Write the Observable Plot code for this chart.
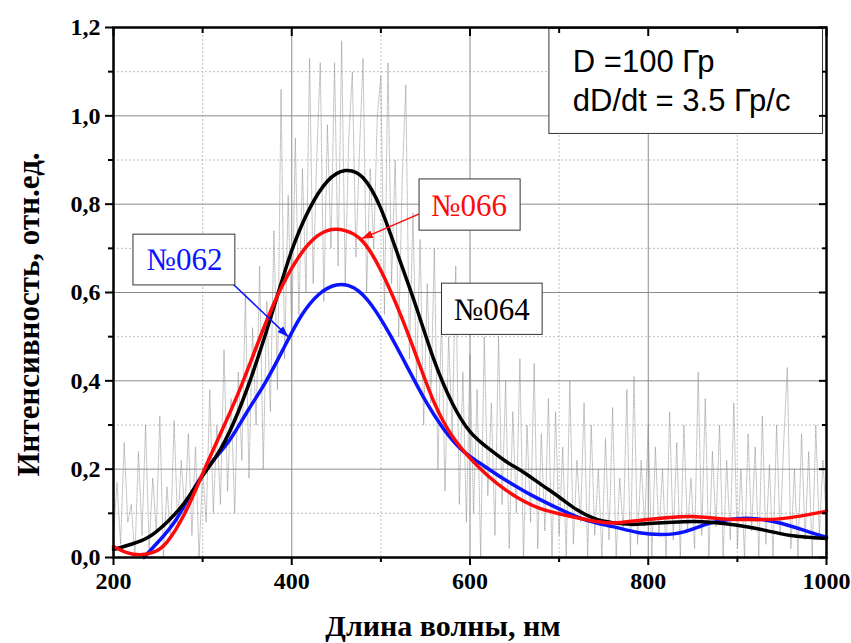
<!DOCTYPE html>
<html><head><meta charset="utf-8">
<script src="https://cdn.jsdelivr.net/npm/d3@7"></script>
<script src="https://cdn.jsdelivr.net/npm/@observablehq/plot@0.6"></script>
<style>body{margin:0;background:#fff} svg{display:block}</style>
</head><body><div id="chart"></div>
<script>
// ---- data ----
const xMajor = [200, 400, 600, 800, 1000];
const xMinor = [300, 500, 700, 900];
const yMajor = [0, 0.2, 0.4, 0.6, 0.8, 1.0, 1.2];
const yMinor = [0.1, 0.3, 0.5, 0.7, 0.9, 1.1];
const yTickLabels = ["0,0", "0,2", "0,4", "0,6", "0,8", "1,0", "1,2"];
const xTickLabels = ["200", "400", "600", "800", "1000"];

// raw noisy spectrum, sampled every 4 nm from 200 nm
const rawStart = 200, rawStep = 4;
const rawIntensity = [
 0.05,0.17,0.03,0.26,0.08,0.12,0.0,0.24,0.05,0.30,
 0.02,0.18,0.06,0.32,0.0,0.16,0.04,0.31,0.07,0.22,
 0.1,0.28,0.05,0.25,0.0,0.2,0.08,0.38,0.1,0.3,
 0.12,0.47,0.15,0.36,0.1,0.42,0.22,0.6,0.18,0.52,
 0.3,0.66,0.2,0.58,0.33,0.74,0.38,1.06,0.45,0.82,
 0.5,0.95,0.55,0.88,0.6,1.13,0.62,0.9,1.12,0.58,
 0.98,0.7,1.12,0.66,1.17,0.62,0.95,1.1,0.68,0.92,
 1.13,0.6,0.88,0.7,1.0,1.09,0.55,1.12,0.62,0.9,
 0.5,0.86,1.07,0.45,0.78,0.4,0.72,0.3,0.62,0.35,
 0.7,0.2,0.55,0.15,0.5,0.28,0.66,0.12,0.42,0.08,
 0.46,0.1,0.38,0.0,0.5,0.14,0.35,0.05,0.5,0.12,
 0.4,0.02,0.33,0.1,0.45,0.0,0.3,0.08,0.44,0.02,
 0.28,0.06,0.36,0.0,0.33,0.05,0.25,0.0,0.4,0.03,
 0.22,0.08,0.35,0.0,0.3,0.05,0.2,0.0,0.27,0.04,
 0.34,0.0,0.18,0.06,0.38,0.0,0.41,0.03,0.22,0.07,
 0.3,0.0,0.25,0.05,0.2,0.0,0.33,0.04,0.26,0.0,
 0.3,0.06,0.18,0.02,0.42,0.05,0.36,0.0,0.24,0.07,
 0.3,0.0,0.22,0.04,0.35,0.02,0.2,0.0,0.28,0.06,
 0.25,0.0,0.32,0.03,0.21,0.0,0.3,0.05,0.26,0.43,
 0.02,0.2,0.0,0.28,0.04,0.24,0.0,0.3,0.05,0.22,
 0.08
];

// smoothed spectra
const wl064 = [200,220,240,260,280,300,320,340,360,380,400,420,440,460,480,500,520,540,560,580,600,620,640,660,680,700,720,740,760,780,800,840,870,900,930,960,1000];
const int064 = [0.018,0.03,0.047,0.08,0.125,0.185,0.245,0.33,0.44,0.567,0.695,0.79,0.852,0.876,0.86,0.79,0.68,0.565,0.445,0.35,0.285,0.248,0.218,0.193,0.165,0.137,0.108,0.088,0.079,0.075,0.077,0.081,0.08,0.073,0.062,0.05,0.043];

const wl066 = [200,215,230,245,260,280,300,320,340,360,380,400,420,440,460,480,500,520,540,560,580,600,620,640,660,680,700,720,740,760,790,820,850,880,910,950,1000];
const int066 = [0.025,0.011,0.006,0.012,0.035,0.1,0.19,0.28,0.372,0.475,0.575,0.655,0.712,0.74,0.74,0.715,0.65,0.56,0.455,0.35,0.275,0.225,0.185,0.153,0.128,0.11,0.099,0.09,0.082,0.078,0.084,0.09,0.093,0.088,0.086,0.088,0.105];

const wl062 = [234,250,270,290,310,330,350,370,390,410,430,450,470,490,510,530,550,570,590,610,630,650,670,700,730,760,790,815,840,870,900,920,950,980,1000];
const int062 = [0.0,0.035,0.085,0.155,0.215,0.265,0.33,0.395,0.47,0.545,0.595,0.617,0.61,0.57,0.505,0.43,0.355,0.292,0.245,0.215,0.188,0.163,0.14,0.11,0.085,0.07,0.056,0.052,0.058,0.078,0.088,0.088,0.077,0.058,0.046];

// annotations (data coordinates)
const seriesNames = ["№062", "№064", "№066"];
const seriesColors = ["#0a14ff", "#000000", "#ff0a0a"];
const labelBoxes = [
  {x1: 222.4, x2: 336.7, y1: 0.616, y2: 0.731},
  {x1: 568.6, x2: 681.5, y1: 0.504, y2: 0.620},
  {x1: 543.4, x2: 656.8, y1: 0.740, y2: 0.856}
];
const labelPos = [
  {x: 279.6, y: 0.650},
  {x: 624.4, y: 0.537},
  {x: 598.9, y: 0.774}
];
const arrows062 = [{x1: 331.1, y1: 0.625, x2: 396.1, y2: 0.500}];
const arrows066 = [{x1: 547.7, y1: 0.782, x2: 478.6, y2: 0.722}];
const infoBox = [{x1: 689.1, x2: 996.1, y1: 0.959, y2: 1.197}];
const infoLines = [
  {x: 715.4, y: 1.099, text: "D =100 Гр"},
  {x: 715.4, y: 1.012, text: "dD/dt = 3.5 Гр/с"}
];
const xTitle = "Длина волны, нм";
const yTitle = "Интенсивность, отн.ед.";

// ---- build tables ----
const raw = rawIntensity.map((v, i) => ({x: rawStart + i * rawStep, y: v}));
const s064 = wl064.map((x, i) => ({x, y: int064[i]}));
const s066 = wl066.map((x, i) => ({x, y: int066[i]}));
const s062 = wl062.map((x, i) => ({x, y: int062[i]}));
const labels = seriesNames.map((name, i) => ({...labelPos[i], text: name, color: seriesColors[i]}));

function filledHead(color) {
  const ns = "http://www.w3.org/2000/svg";
  const m = document.createElementNS(ns, "marker");
  m.setAttribute("viewBox", "-11 -4.5 11 9");
  m.setAttribute("markerWidth", "11");
  m.setAttribute("markerHeight", "9");
  m.setAttribute("markerUnits", "userSpaceOnUse");
  m.setAttribute("refX", "0");
  m.setAttribute("refY", "0");
  m.setAttribute("orient", "auto");
  m.setAttribute("fill", color);
  m.setAttribute("stroke", "none");
  const p = document.createElementNS(ns, "path");
  p.setAttribute("d", "M-11,-4L0,0L-11,4Z");
  m.appendChild(p);
  return m;
}

const serif = "'Liberation Serif', 'Times New Roman', serif";
const sans = "'Liberation Sans', Arial, sans-serif";

const chart = Plot.plot({
  width: 851,
  height: 643,
  marginLeft: 113,
  marginRight: 25,
  marginTop: 27,
  marginBottom: 86,
  style: {background: "#fff", overflow: "visible"},
  x: {domain: [200, 1000], label: null},
  y: {domain: [0, 1.2], label: null},
  marks: [
    Plot.gridX(xMinor, {stroke: "#c0c0c0", strokeOpacity: 1, strokeDasharray: "2,2"}),
    Plot.gridY(yMinor, {stroke: "#c0c0c0", strokeOpacity: 1, strokeDasharray: "2,2"}),
    Plot.gridX(xMajor, {stroke: "#8c8c8c", strokeOpacity: 1}),
    Plot.gridY(yMajor, {stroke: "#8c8c8c", strokeOpacity: 1}),
    Plot.line(raw, {x: "x", y: "y", stroke: "#8a8a8a", strokeWidth: 0.7, strokeOpacity: 0.85, strokeDasharray: "1,1.2", clip: true}),
    Plot.line(s062, {x: "x", y: "y", stroke: seriesColors[0], strokeWidth: 3.5, curve: "natural"}),
    Plot.line(s064, {x: "x", y: "y", stroke: seriesColors[1], strokeWidth: 3.5, curve: "natural"}),
    Plot.line(s066, {x: "x", y: "y", stroke: seriesColors[2], strokeWidth: 3.5, curve: "natural"}),
    Plot.link(arrows062, {x1: "x1", y1: "y1", x2: "x2", y2: "y2", stroke: seriesColors[0], strokeWidth: 1.5, markerEnd: filledHead}),
    Plot.link(arrows066, {x1: "x1", y1: "y1", x2: "x2", y2: "y2", stroke: seriesColors[2], strokeWidth: 1.5, markerEnd: filledHead}),
    Plot.rect(labelBoxes, {x1: "x1", x2: "x2", y1: "y1", y2: "y2", fill: "#fff", stroke: "#333", strokeWidth: 1}),
    Plot.text(labels, {x: "x", y: "y", text: "text", fill: d => d.color, fontSize: 31, fontFamily: serif, lineAnchor: "bottom", textAnchor: "middle"}),
    Plot.rect(infoBox, {x1: "x1", x2: "x2", y1: "y1", y2: "y2", fill: "#fff", stroke: "#333", strokeWidth: 1}),
    Plot.text(infoLines, {x: "x", y: "y", text: "text", fill: "#000", fontSize: 31, fontFamily: sans, lineAnchor: "bottom", textAnchor: "start"}),
    Plot.frame({stroke: "#000", strokeWidth: 2.5}),
    Plot.axisX({anchor: "bottom", ticks: xMajor, tickSize: 8, tickPadding: 6, strokeWidth: 2, tickFormat: d => xTickLabels[xMajor.indexOf(d)], fontSize: 24, fontWeight: "bold", fontFamily: serif, label: null}),
    Plot.axisX({anchor: "bottom", ticks: xMinor, tickSize: 5, strokeWidth: 2, tickFormat: () => "", label: null}),
    Plot.axisX({anchor: "top", ticks: xMajor, tickSize: -8, strokeWidth: 2, tickFormat: () => "", label: null}),
    Plot.axisX({anchor: "top", ticks: xMinor, tickSize: -5, strokeWidth: 2, tickFormat: () => "", label: null}),
    Plot.axisY({anchor: "left", ticks: yMajor, tickSize: 8, tickPadding: 5, strokeWidth: 2, tickFormat: d => yTickLabels[yMajor.indexOf(d)], fontSize: 24, fontWeight: "bold", fontFamily: serif, label: null}),
    Plot.axisY({anchor: "left", ticks: yMinor, tickSize: 5, strokeWidth: 2, tickFormat: () => "", label: null}),
    Plot.axisY({anchor: "right", ticks: yMajor, tickSize: -8, strokeWidth: 2, tickFormat: () => "", label: null}),
    Plot.axisY({anchor: "right", ticks: yMinor, tickSize: -5, strokeWidth: 2, tickFormat: () => "", label: null}),
    Plot.text([xTitle], {frameAnchor: "bottom", text: d => d, dy: 78, dx: -27, lineAnchor: "bottom", textAnchor: "middle", fontSize: 30, fontWeight: "bold", fontFamily: serif, fill: "#000"}),
    Plot.text([yTitle], {frameAnchor: "left", text: d => d, dx: -84, dy: 22, rotate: -90, lineAnchor: "middle", textAnchor: "middle", fontSize: 31, fontWeight: "bold", fontFamily: serif, fill: "#000"})
  ]
});
document.getElementById("chart").appendChild(chart);
</script>
</body></html>
